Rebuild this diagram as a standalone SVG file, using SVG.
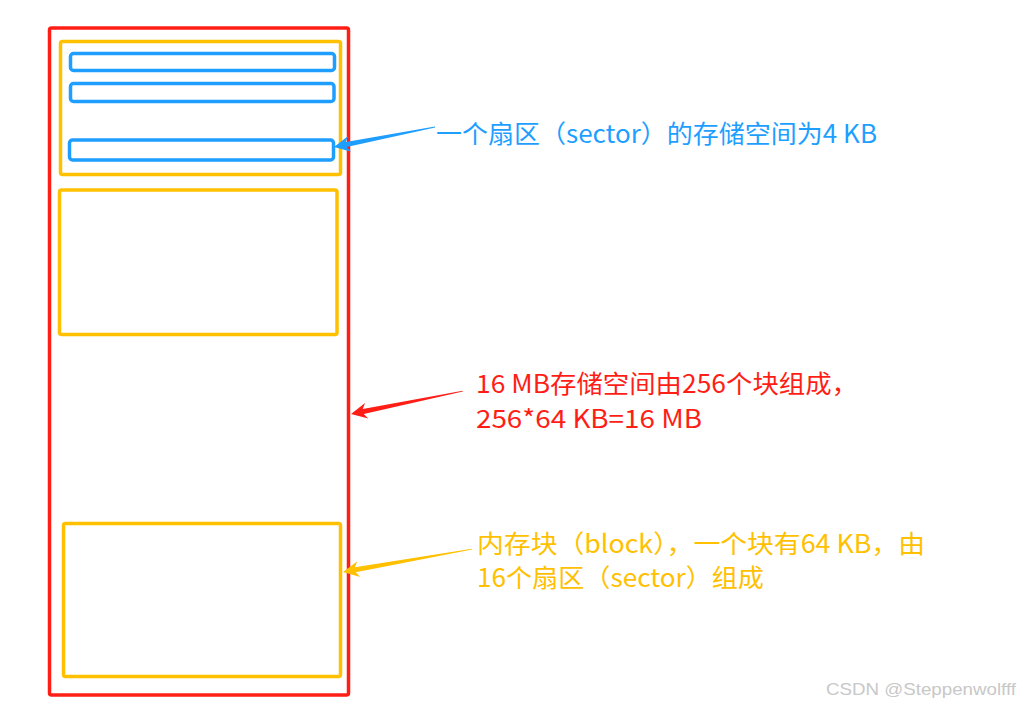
<svg xmlns="http://www.w3.org/2000/svg" width="1021" height="706" viewBox="0 0 1021 706">
<style>
.box{fill:none;stroke-width:3.5;stroke-linejoin:round}
.red{stroke:#ff1e16}
.yel{stroke:#ffc000}
.blu{stroke:#1e9fff}
.t{font-family:"Microsoft YaHei","Noto Sans CJK SC","Noto Sans",sans-serif;font-size:25px}
.wm{font-family:"Liberation Sans",Arial,sans-serif;font-size:17px;fill:#c8c8c8}
</style>
<rect width="1021" height="706" fill="#ffffff"/>
<g id="memory"><rect class="box red" x="49.5" y="28" width="299" height="667" rx="2"/></g>
<g id="block1"><rect class="box yel" x="60.5" y="41.5" width="280" height="133" rx="2"/></g>
<g id="sector1"><rect class="box blu" x="70.5" y="53.5" width="264" height="17" rx="3"/></g>
<g id="sector2"><rect class="box blu" x="70.5" y="83.5" width="263.5" height="18" rx="3"/></g>
<g id="sector3"><rect class="box blu" x="69.5" y="140" width="264" height="20" rx="3"/></g>
<g id="block2"><rect class="box yel" x="59.5" y="190" width="277.5" height="144.5" rx="2"/></g>
<g id="block3"><rect class="box yel" x="63.5" y="523.5" width="277" height="153" rx="2"/></g>
<g id="connectors">
<path fill="#1e9fff" transform="translate(334,147) rotate(-11.2)" d="M0,0 L16,-8 L12.5,-2.6 L103,-0.4 L103,0.4 L12.5,2.6 L16,8 Z"/>
<path fill="#ff1e16" transform="translate(351,414) rotate(-11.6)" d="M0,0 L16,-8 L12.5,-2.6 L114,-0.4 L114,0.4 L12.5,2.6 L16,8 Z"/>
<path fill="#ffc000" transform="translate(343,572) rotate(-10.1)" d="M0,0 L16,-8 L12.5,-2.6 L131,-0.4 L131,0.4 L12.5,2.6 L16,8 Z"/>
</g>
<g id="label-sector"><text class="t" x="436" y="143" fill="#1e9fff" textLength="441" lengthAdjust="spacingAndGlyphs">一个扇区（sector）的存储空间为4 KB</text></g>
<g id="label-memory">
<text class="t" x="476" y="393" fill="#ff1e16" textLength="382" lengthAdjust="spacingAndGlyphs">16 MB存储空间由256个块组成，</text>
<text class="t" x="476" y="428" fill="#ff1e16" textLength="226" lengthAdjust="spacingAndGlyphs">256*64 KB=16 MB</text>
</g>
<g id="label-block">
<text class="t" x="477" y="553" fill="#ffc000" textLength="448" lengthAdjust="spacingAndGlyphs">内存块（block），一个块有64 KB，由</text>
<text class="t" x="477" y="587" fill="#ffc000" textLength="287" lengthAdjust="spacingAndGlyphs">16个扇区（sector）组成</text>
</g>
<text class="wm" x="826" y="695" textLength="190" lengthAdjust="spacingAndGlyphs">CSDN @Steppenwolfff</text>
</svg>
